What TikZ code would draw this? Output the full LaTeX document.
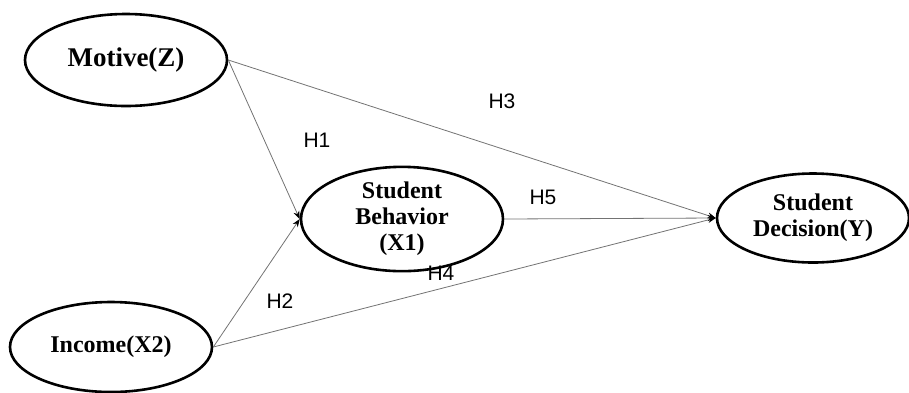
\documentclass[tikz,border=0pt]{standalone}
\usepackage{fontspec}
\setmainfont{Liberation Serif}
\newfontfamily\labfont{Liberation Sans}
\usetikzlibrary{shapes.geometric,arrows.meta}
\begin{document}
\begin{tikzpicture}[x=1pt,y=-1pt,
  latent/.style={draw=black,line width=2.6pt,ellipse,inner sep=0pt,align=center,
    font=\bfseries\fontsize{24}{26}\selectfont},
  path/.style={draw=black!55,line width=0.8pt,-{Stealth[black,length=8pt,width=6pt]}},
  hlab/.style={font=\labfont\fontsize{21}{23}\selectfont,inner sep=0pt}]
\useasboundingbox (0,0) rectangle (909,392);
\node[latent,minimum width=202pt,minimum height=92pt] (mot) at (126,60) {\fontsize{27}{29}\selectfont Motive(Z)};
\node[latent,minimum width=202pt,minimum height=92pt] (sb) at (402,219) {Student\\Behavior\\(X1)};
\node[latent,minimum width=192pt,minimum height=89pt] (sd) at (813,218) {Student\\Decision(Y)};
\node[latent,minimum width=202pt,minimum height=90pt] (inc) at (111,347) {Income(X2)};
\draw[path] (mot.east) -- (sb.west);
\draw[path] (mot.east) -- (sd.west);
\draw[path] (inc.east) -- (sb.west);
\draw[path] (inc.east) -- (sd.west);
\draw[path] (sb.east) -- (sd.west);
\node[hlab] (h1) at (317,140) {H1};
\node[hlab] (h3) at (502,101) {H3};
\node[hlab] (h5) at (543,197) {H5};
\node[hlab] (h4) at (441,273) {H4};
\node[hlab] (h2) at (280,301) {H2};
\end{tikzpicture}
\end{document}
